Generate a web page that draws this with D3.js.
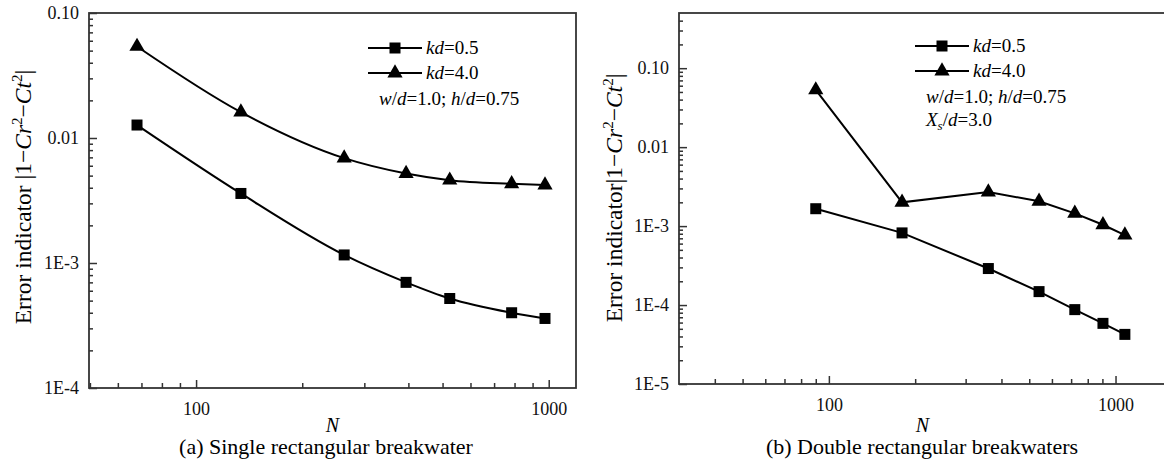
<!DOCTYPE html>
<html>
<head>
<meta charset="utf-8">
<script src="https://cdn.jsdelivr.net/npm/d3@7"></script>
<style>
  body { margin: 0; background: #fff; }
  svg { font-family: "Liberation Serif", "Times New Roman", serif; }
</style>
</head>
<body>
<svg id="chart" width="1164" height="467"></svg>
<script>
// data
const leftN = [68, 134, 263, 394, 524, 785, 976];
const leftKd05 = [0.0127, 0.0036, 0.00116, 0.0007, 0.00052, 0.0004, 0.00036];
const leftKd40 = [0.054, 0.0161, 0.0069, 0.0052, 0.0046, 0.0043, 0.0042];

const rightN = [90, 180, 360, 541, 721, 904, 1078];
const rightKd05 = [0.00166, 0.00082, 0.00029, 0.000148, 0.0000875, 0.0000586, 0.0000425];
const rightKd40 = [0.053, 0.002, 0.0027, 0.00206, 0.00145, 0.00104, 0.00077];

const leftYTicks = [0.1, 0.01, 0.001, 0.0001];
const leftYLabels = ["0.10", "0.01", "1E-3", "1E-4"];
const rightYTicks = [0.1, 0.01, 0.001, 0.0001, 0.00001];
const rightYLabels = ["0.10", "0.01", "1E-3", "1E-4", "1E-5"];
const xTicks = [100, 1000];
const xLabels = ["100", "1000"];

const svg = d3.select("#chart");

function minorTicks(lo, hi) {
  const out = [];
  for (let e = Math.floor(Math.log10(lo)); e <= Math.ceil(Math.log10(hi)); e++) {
    for (let m = 2; m <= 9; m++) {
      const v = m * Math.pow(10, e);
      if (v > lo * 1.0001 && v < hi * 0.9999) out.push(v);
    }
  }
  return out;
}

function drawPanel(p) {
  const g = svg.append("g");
  const x = d3.scaleLog().domain(p.xDomain).range([p.left, p.right]);
  const y = d3.scaleLog().domain(p.yDomain).range([p.bottom, p.top]);

  // frame
  g.append("rect")
    .attr("x", p.left).attr("y", p.top)
    .attr("width", p.right - p.left).attr("height", p.bottom - p.top)
    .attr("fill", "none").attr("stroke", "#333").attr("stroke-width", 1.8);

  // x axis: major + minor ticks pointing inward
  const xa = g.append("g").attr("transform", `translate(0,${p.bottom})`)
    .call(d3.axisBottom(x).tickValues(xTicks).tickSizeInner(-8).tickSizeOuter(0)
      .tickPadding(14).tickFormat((d, i) => xLabels[i]));
  g.append("g").attr("transform", `translate(0,${p.bottom})`)
    .call(d3.axisBottom(x).tickValues(minorTicks(p.xDomain[0], p.xDomain[1]))
      .tickSizeInner(-5).tickSizeOuter(0).tickFormat(""))
    .call(a => a.select(".domain").remove());
  xa.select(".domain").remove();

  const ya = g.append("g").attr("transform", `translate(${p.left},0)`)
    .call(d3.axisLeft(y).tickValues(p.yTicks).tickSizeInner(-8).tickSizeOuter(0)
      .tickPadding(10).tickFormat((d, i) => p.yLabels[i]));
  g.append("g").attr("transform", `translate(${p.left},0)`)
    .call(d3.axisLeft(y).tickValues(minorTicks(p.yDomain[0], p.yDomain[1]))
      .tickSizeInner(-4).tickSizeOuter(0).tickFormat(""))
    .call(a => a.select(".domain").remove());
  ya.select(".domain").remove();

  g.selectAll(".tick line").attr("stroke", "#333").attr("stroke-width", 1.5);
  g.selectAll(".tick text").attr("fill", "#111")
    .style("font-family", "Liberation Serif").style("font-size", "18px");

  // series
  const line = d3.line().x(d => x(d[0])).y(d => y(d[1])).curve(p.curve);
  p.series.forEach(s => {
    const pts = p.n.map((n, i) => [n, s.values[i]]);
    g.append("path").datum(pts).attr("d", line)
      .attr("fill", "none").attr("stroke", "#000").attr("stroke-width", 2);
    drawMarkers(g, pts.map(d => [x(d[0]), y(d[1])]), s.shape);
  });

  // legend
  p.series.forEach((s, i) => {
    const ly = p.legY + i * 25;
    g.append("line").attr("x1", p.legX).attr("x2", p.legX + 54)
      .attr("y1", ly).attr("y2", ly).attr("stroke", "#000").attr("stroke-width", 2);
    drawMarkers(g, [[p.legX + 27, ly]], s.shape);
    const t = g.append("text").attr("x", p.legX + 58).attr("y", ly + 6)
      .style("font-size", "19px");
    t.append("tspan").style("font-style", "italic").text("kd");
    t.append("tspan").text("=" + s.name);
  });
  const nt = g.append("text").attr("x", p.legX + 11).attr("y", p.legY + 57)
    .style("font-size", "19px");
  nt.append("tspan").style("font-style", "italic").text("w");
  nt.append("tspan").text("/");
  nt.append("tspan").style("font-style", "italic").text("d");
  nt.append("tspan").text("=1.0; ");
  nt.append("tspan").style("font-style", "italic").text("h");
  nt.append("tspan").text("/");
  nt.append("tspan").style("font-style", "italic").text("d");
  nt.append("tspan").text("=0.75");
  if (p.extra) {
    const xt = g.append("text").attr("x", p.legX + 11).attr("y", p.legY + 80)
      .style("font-size", "19px");
    xt.append("tspan").style("font-style", "italic").text("X");
    xt.append("tspan").style("font-style", "italic").style("font-size", "13px")
      .attr("dy", 4).text("s");
    xt.append("tspan").attr("dy", -4).text("/");
    xt.append("tspan").style("font-style", "italic").text("d");
    xt.append("tspan").text("=3.0");
  }

  // y label
  const yl = g.append("text")
    .attr("transform", `translate(${p.yLabelX},${p.yLabelY}) rotate(-90)`)
    .attr("text-anchor", "middle").style("font-size", "23.5px");
  yl.append("tspan").text(p.yLabelGap ? "Error indicator |1\u2212" : "Error indicator|1\u2212");
  yl.append("tspan").style("font-style", "italic").text("Cr");
  yl.append("tspan").attr("dy", -9).style("font-size", "15px").text("2");
  yl.append("tspan").attr("dy", 9).text("\u2212");
  yl.append("tspan").style("font-style", "italic").text("Ct");
  yl.append("tspan").attr("dy", -9).style("font-size", "15px").text("2");
  yl.append("tspan").attr("dy", 9).text("|");

  // x label + caption
  g.append("text").attr("x", (p.left + p.right) / 2).attr("y", 432)
    .attr("text-anchor", "middle").style("font-size", "20px").style("font-style", "italic")
    .text("N");
  g.append("text").attr("x", p.captionX).attr("y", 454)
    .attr("text-anchor", "middle").style("font-size", "22px").text(p.caption);
}

function drawMarkers(g, pts, shape) {
  if (shape === "square") {
    g.selectAll(null).data(pts).enter().append("rect")
      .attr("x", d => d[0] - 5.5).attr("y", d => d[1] - 5.5)
      .attr("width", 11).attr("height", 11).attr("fill", "#000");
  } else {
    const tri = d3.symbol().type(d3.symbolTriangle).size(100);
    g.selectAll(null).data(pts).enter().append("path")
      .attr("d", tri).attr("transform", d => `translate(${d[0]},${d[1]})`)
      .attr("fill", "#000");
  }
}

drawPanel({
  left: 89, right: 576, top: 13, bottom: 388,
  xDomain: [49.7, 1195], yDomain: [0.0001, 0.1],
  yTicks: leftYTicks, yLabels: leftYLabels,
  n: leftN, curve: d3.curveMonotoneX,
  series: [
    { name: "0.5", values: leftKd05, shape: "square" },
    { name: "4.0", values: leftKd40, shape: "triangle" }
  ],
  legX: 368, legY: 48, extra: false,
  yLabelX: 31, yLabelY: 197, yLabelGap: true,
  captionX: 326, caption: "(a) Single rectangular breakwater"
});

drawPanel({
  left: 679, right: 1166, top: 13, bottom: 384,
  xDomain: [30, 1500], yDomain: [0.00001, 0.5],
  yTicks: rightYTicks, yLabels: rightYLabels,
  n: rightN, curve: d3.curveLinear,
  series: [
    { name: "0.5", values: rightKd05, shape: "square" },
    { name: "4.0", values: rightKd40, shape: "triangle" }
  ],
  legX: 915, legY: 46, extra: true,
  yLabelX: 622, yLabelY: 198, yLabelGap: false,
  captionX: 922, caption: "(b) Double rectangular breakwaters"
});
</script>
</body>
</html>
